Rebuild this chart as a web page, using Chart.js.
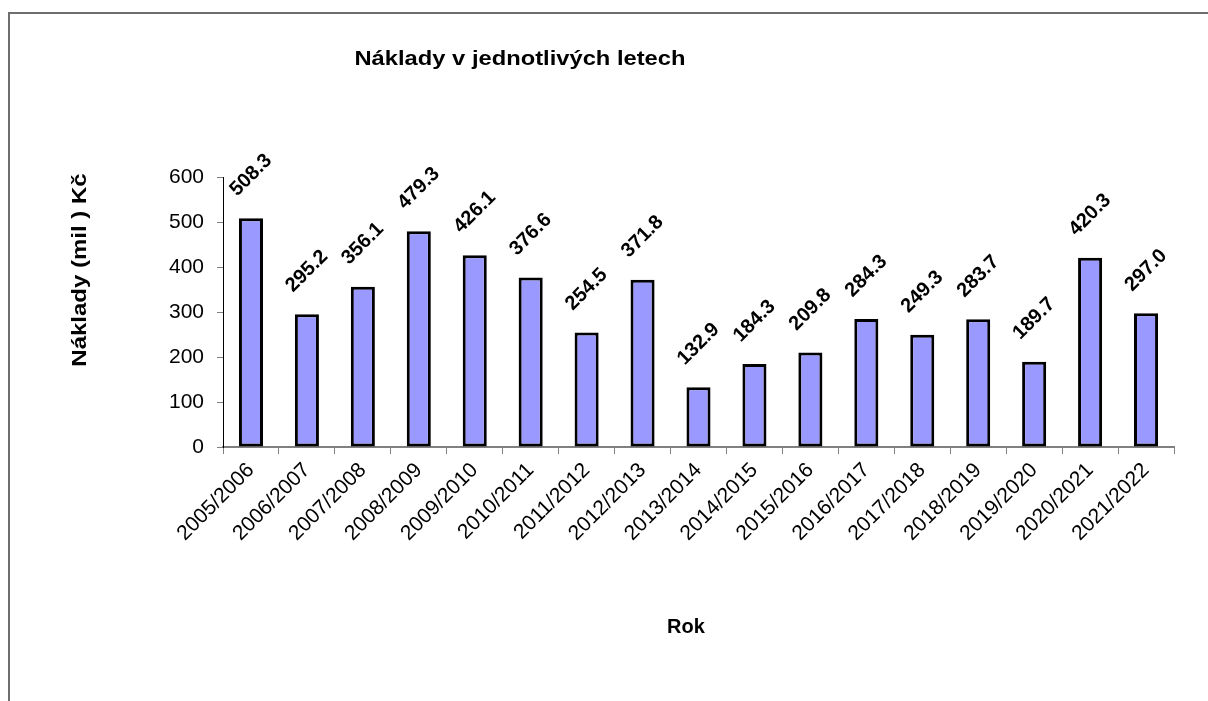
<!DOCTYPE html>
<html>
<head>
<meta charset="utf-8">
<script src="https://cdn.jsdelivr.net/npm/chart.js@4/dist/chart.umd.min.js"></script>
<style>
  html, body { margin: 0; padding: 0; background: #fff; }
  #wrap { width: 1208px; height: 701px; position: relative; }
</style>
</head>
<body>
<div id="wrap"><canvas id="nakladyChart"></canvas></div>
<script>
// data
const roky = ['2005/2006', '2006/2007', '2007/2008', '2008/2009', '2009/2010', '2010/2011',
  '2011/2012', '2012/2013', '2013/2014', '2014/2015', '2015/2016', '2016/2017',
  '2017/2018', '2018/2019', '2019/2020', '2020/2021', '2021/2022'];
const naklady = [508.3, 295.2, 356.1, 479.3, 426.1, 376.6, 254.5, 371.8, 132.9,
  184.3, 209.8, 284.3, 249.3, 283.7, 189.7, 420.3, 297.0];
const yMin = 0;
const yMax = 600;
const yStep = 100;

const nadpis = 'Náklady v jednotlivých letech';
const osaY = 'Náklady (mil ) Kč';
const osaX = 'Rok';

const FONT = "'Liberation Sans', Arial, sans-serif";
Chart.defaults.font.family = FONT;
Chart.defaults.color = '#000';

// ramecek + popisky os (kreslene rucne kvuli presne poloze)
const ramecekPlugin = {
  id: 'ramecek',
  beforeDraw(chart) {
    const ctx = chart.ctx;
    ctx.save();
    ctx.fillStyle = '#fff';
    ctx.fillRect(0, 0, chart.width, chart.height);
    ctx.strokeStyle = '#6e6e6e';
    ctx.lineWidth = 2;
    ctx.strokeRect(9, 13, chart.width + 20, chart.height + 20);
    ctx.restore();
  },
  afterDraw(chart) {
    const ctx = chart.ctx;
    ctx.save();
    ctx.fillStyle = '#000';
    ctx.textAlign = 'center';
    ctx.textBaseline = 'middle';

    // titulek
    ctx.font = 'bold 21px ' + FONT;
    ctx.save();
    ctx.translate(520, 59);
    ctx.scale(1.13, 1);
    ctx.fillText(nadpis, 0, 0);
    ctx.restore();

    // osa Y
    ctx.font = 'bold 20px ' + FONT;
    ctx.save();
    ctx.translate(80, 270);
    ctx.rotate(-Math.PI / 2);
    ctx.scale(1.2, 1);
    ctx.fillText(osaY, 0, 0);
    ctx.restore();

    // osa X
    ctx.font = 'bold 20px ' + FONT;
    ctx.fillText(osaX, 686, 627);
    ctx.restore();
  }
};

// hodnoty nad sloupci, otocene o 45 stupnu
const hodnotyPlugin = {
  id: 'hodnoty',
  afterDatasetsDraw(chart) {
    const ctx = chart.ctx;
    const meta = chart.getDatasetMeta(0);
    ctx.save();
    ctx.font = 'bold 20px ' + FONT;
    ctx.fillStyle = '#000';
    ctx.textAlign = 'center';
    ctx.textBaseline = 'middle';
    meta.data.forEach((bar, i) => {
      ctx.save();
      ctx.translate(bar.x, bar.y - 43);
      ctx.rotate(-Math.PI / 4);
      ctx.fillText(naklady[i].toFixed(1), 0, 0);
      ctx.restore();
    });
    ctx.restore();
  }
};

const ctx = document.getElementById('nakladyChart').getContext('2d');

const nakladyChart = new Chart(ctx, {
  type: 'bar',
  data: {
    labels: roky,
    datasets: [{
      data: naklady,
      backgroundColor: '#9999FF',
      borderColor: '#000',
      borderWidth: 3,
      borderSkipped: false,
      categoryPercentage: 1,
      barPercentage: 0.43
    }]
  },
  options: {
    responsive: true,
    maintainAspectRatio: false,
    animation: false,
    devicePixelRatio: 1,
    layout: {
      padding: { left: 10, top: 177, right: 34, bottom: 0 }
    },
    plugins: {
      legend: { display: false },
      title: { display: false },
      tooltip: { enabled: false }
    },
    scales: {
      x: {
        afterFit(scale) { scale.height = 254; },
        grid: {
          drawOnChartArea: false,
          tickLength: 7,
          color: '#808080',
          offset: true
        },
        border: { color: '#808080', width: 2 },
        ticks: {
          autoSkip: false,
          maxRotation: 45,
          minRotation: 45,
          padding: 4,
          font: { size: 21 }
        }
      },
      y: {
        min: yMin,
        max: yMax,
        afterFit(scale) { scale.width = 213; },
        grid: {
          drawOnChartArea: false,
          tickLength: 6,
          color: '#808080'
        },
        border: { color: '#000', width: 1 },
        ticks: {
          stepSize: yStep,
          padding: 13,
          font: { size: 21 }
        }
      }
    }
  },
  plugins: [ramecekPlugin, hodnotyPlugin]
});
</script>
</body>
</html>
